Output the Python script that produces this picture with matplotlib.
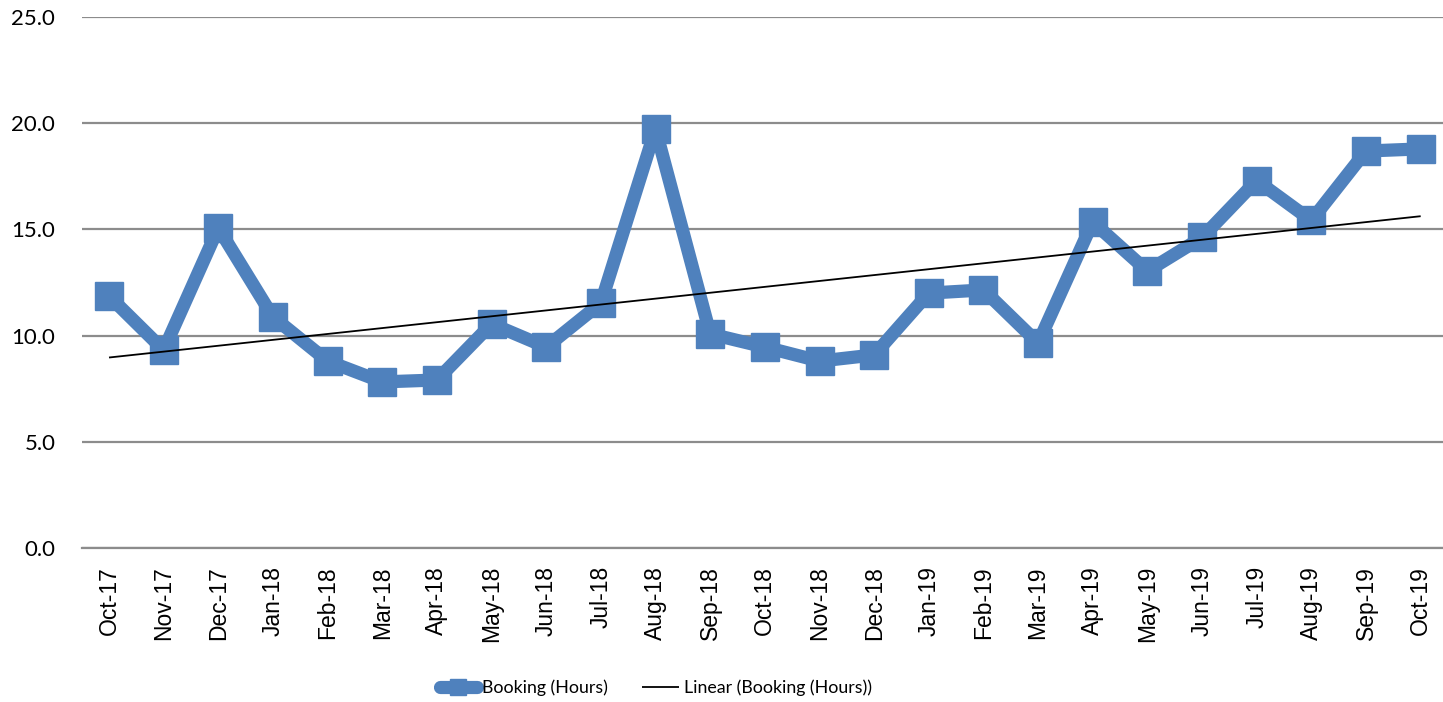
import numpy as np
import matplotlib
matplotlib.use("Agg")
import matplotlib.pyplot as plt

# ---------------- DATA ----------------
months = ["Oct-17", "Nov-17", "Dec-17", "Jan-18", "Feb-18", "Mar-18", "Apr-18",
          "May-18", "Jun-18", "Jul-18", "Aug-18", "Sep-18", "Oct-18", "Nov-18",
          "Dec-18", "Jan-19", "Feb-19", "Mar-19", "Apr-19", "May-19", "Jun-19",
          "Jul-19", "Aug-19", "Sep-19", "Oct-19"]
booking = [11.86, 9.32, 15.07, 10.88, 8.80, 7.82, 7.91,
           10.55, 9.46, 11.53, 19.73, 10.08, 9.46, 8.80,
           9.09, 12.00, 12.15, 9.65, 15.35, 13.04, 14.62,
           17.30, 15.42, 18.69, 18.79]
y_ticks = [0, 5, 10, 15, 20, 25]

blue = "#4F81BD"

# ---------------- PLOT ----------------
fig = plt.figure(figsize=(14.43, 7.02), dpi=100)
ax = fig.add_axes([81.7 / 1443, 154 / 702, 1366.3 / 1443, 531 / 702])

x = np.arange(len(months))
ax.plot(x, booking, color=blue, linewidth=9.5, marker="s", markersize=19.5,
        solid_joinstyle="round", solid_capstyle="round",
        label="Booking (Hours)", zorder=3)

# linear trend line (least squares, like Excel)
slope, intercept = np.polyfit(x, booking, 1)
ax.plot(x, slope * x + intercept, color="black", linewidth=1.3,
        solid_capstyle="butt", label="Linear (Booking (Hours))", zorder=4)

ax.set_xlim(-0.5, len(months) - 0.5)
ax.set_ylim(0, 25)
ax.set_yticks(y_ticks)
ax.set_yticklabels([f"{v:.1f}" for v in y_ticks], fontfamily="Lato", fontsize=16)
ax.set_xticks(x)
ax.set_xticklabels(months, rotation=90, fontfamily="Liberation Sans", fontsize=16.5)
ax.tick_params(axis="y", length=0, pad=19)
ax.tick_params(axis="x", length=0, pad=13)

ax.grid(axis="y", color="#8c8c8c", linewidth=1.6)
ax.set_axisbelow(True)
for s in ["top", "right", "left"]:
    ax.spines[s].set_visible(False)
ax.spines["bottom"].set_color("#8c8c8c")
ax.spines["bottom"].set_linewidth(1.6)

leg = fig.legend(loc="center", bbox_to_anchor=(656 / 1443, 1 - 688 / 702),
                 ncol=2, frameon=False, prop={"family": "Lato", "size": 12.8},
                 handlelength=2.1, handletextpad=0.3, columnspacing=1.9,
                 numpoints=1, markerscale=0.6)

fig.savefig("out.png", dpi=100)
